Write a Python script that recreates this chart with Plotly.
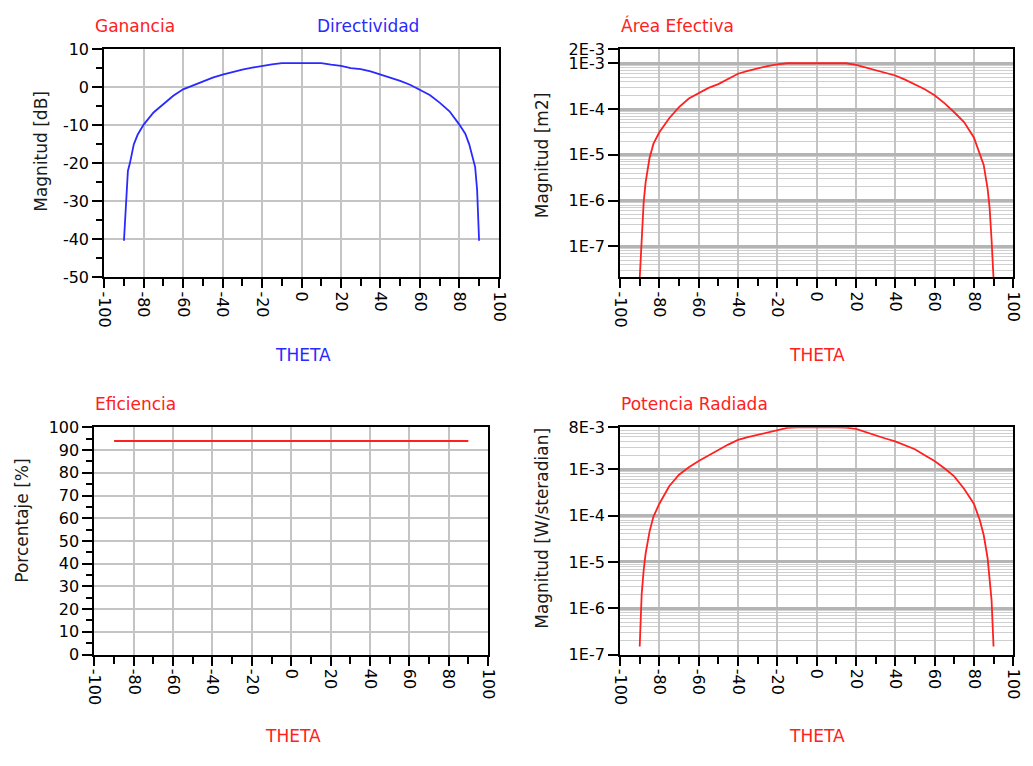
import plotly.graph_objects as go

# Angle samples (degrees) shared by the pattern curves
THETA = [-90, -89, -88, -87, -85, -83, -80, -75, -70, -65, -60, -55, -50, -45, -40,
         -35, -30, -25, -20, -15, -10, -5, 0, 5, 10, 15, 20, 25, 30, 35, 40, 45,
         50, 55, 60, 65, 70, 75, 80, 83, 85, 87, 88, 89, 90]

# Directividad [dB]
DIRECTIVIDAD = [-40.4, -31.0, -22.0, -20.0, -15.0, -12.4, -9.8, -6.6, -4.3, -2.2, -0.5,
                0.6, 1.7, 2.6, 3.4, 4.1, 4.7, 5.2, 5.7, 6.1, 6.4, 6.4, 6.4, 6.4, 6.4,
                6.0, 5.7, 5.1, 4.8, 4.2, 3.4, 2.6, 1.7, 0.7, -0.6, -2.0, -4.0, -6.3,
                -9.8, -12.2, -15.0, -19.0, -21.0, -27.0, -40.4]

# Área efectiva [m2]
AREA_EFECTIVA = [2.0e-8, 1.3e-7, 9e-7, 2.5e-6, 8.5e-6, 1.75e-5, 3.1e-5, 6.3e-5, 1.1e-4,
                 1.7e-4, 2.2e-4, 2.9e-4, 3.5e-4, 4.5e-4, 5.9e-4, 6.8e-4, 7.8e-4, 8.7e-4,
                 9.5e-4, 1.0e-3, 1.0e-3, 1.0e-3, 1.0e-3, 1.0e-3, 1.0e-3, 1.0e-3, 9.2e-4,
                 8.0e-4, 7.2e-4, 6.2e-4, 5.4e-4, 4.4e-4, 3.5e-4, 2.7e-4, 2.0e-4, 1.35e-4,
                 8.5e-5, 5.2e-5, 2.4e-5, 1.1e-5, 6e-6, 1.8e-6, 7e-7, 1.4e-7, 2.0e-8]

# Potencia radiada [W/steradian]
POTENCIA = [1.5e-7, 2.0e-6, 6.5e-6, 1.5e-5, 4.5e-5, 9.5e-5, 1.8e-4, 4.3e-4, 7.6e-4,
            1.1e-3, 1.5e-3, 2.0e-3, 2.6e-3, 3.4e-3, 4.3e-3, 4.9e-3, 5.5e-3, 6.2e-3,
            6.9e-3, 7.8e-3, 8.0e-3, 8.1e-3, 8.1e-3, 8.1e-3, 8.0e-3, 7.9e-3, 7.4e-3,
            6.3e-3, 5.2e-3, 4.6e-3, 4.0e-3, 3.3e-3, 2.7e-3, 2.0e-3, 1.5e-3, 1.05e-3,
            7.0e-4, 3.8e-4, 1.8e-4, 8e-5, 3.8e-5, 1.2e-5, 5e-6, 1.5e-6, 1.5e-7]

# Eficiencia [%]
THETA_EF = [-90, 90]
EFICIENCIA = [94, 94]

# Tick labels
THETA_TICKS = [-100, -80, -60, -40, -20, 0, 20, 40, 60, 80, 100]
THETA_TICKTEXT = ["-100", "-80", "-60", "-40", "-20", "0", "20", "40", "60", "80", "100"]
DB_TICKS = [10, 0, -10, -20, -30, -40, -50]
DB_TICKTEXT = ["10", "0", "-10", "-20", "-30", "-40", "-50"]
AE_TICKS = [2e-3, 1e-3, 1e-4, 1e-5, 1e-6, 1e-7]
AE_TICKTEXT = ["2E-3", "1E-3", "1E-4", "1E-5", "1E-6", "1E-7"]
POT_TICKS = [8e-3, 1e-3, 1e-4, 1e-5, 1e-6, 1e-7]
POT_TICKTEXT = ["8E-3", "1E-3", "1E-4", "1E-5", "1E-6", "1E-7"]

W, H = 1033, 766
FONT = "DejaVu Sans, Verdana, sans-serif"
RED = "#ff2020"
BLUE = "#2a2aff"
GRID = "#c4c4c4"
TICK_SIZE = 16

# log minor grid positions (2..9 per decade)
LOG_MINOR = [k * 10.0 ** e for e in range(-9, -1) for k in range(2, 10)]


def px_x(a, b):
    return [a / W, b / W]


def px_y(top, bottom):
    return [1 - bottom / H, 1 - top / H]


def xaxis(domain, anchor):
    return dict(
        domain=domain, anchor=anchor, range=[-100, 100],
        tickmode="array", tickvals=THETA_TICKS, ticktext=THETA_TICKTEXT,
        tickangle=90, showgrid=True, gridcolor=GRID, gridwidth=2,
        zeroline=False, showline=True, mirror=True, linecolor="black", linewidth=2,
        ticks="outside", ticklen=9, tickwidth=2, tickcolor="black",
        minor=dict(dtick=10, tick0=0, ticks="outside", ticklen=7, tickwidth=2,
                   tickcolor="black", showgrid=False),
        tickfont=dict(family=FONT, size=TICK_SIZE, color="black"),
    )


def lin_yaxis(domain, anchor, rng, dt, minor_dt, tv=None, tt=None):
    ax = dict(
        domain=domain, anchor=anchor, range=rng, dtick=dt, tick0=0,
        showgrid=True, gridcolor=GRID, gridwidth=2,
        zeroline=False, showline=True, mirror=True, linecolor="black", linewidth=2,
        ticks="outside", ticklen=10, tickwidth=2, tickcolor="black",
        minor=dict(dtick=minor_dt, tick0=0, ticks="outside", ticklen=6, tickwidth=2,
                   tickcolor="black", showgrid=False),
        tickfont=dict(family=FONT, size=TICK_SIZE, color="black"),
    )
    if tv is not None:
        ax.update(tickmode="array", tickvals=tv, ticktext=tt)
    return ax


def log_yaxis(domain, anchor, rng, tv, tt):
    return dict(
        domain=domain, anchor=anchor, type="log", range=rng,
        tickmode="array", tickvals=tv, ticktext=tt,
        showgrid=True, gridcolor="#b4b4b4", gridwidth=3,
        zeroline=False, showline=True, mirror=True, linecolor="black", linewidth=2,
        ticks="outside", ticklen=10, tickwidth=2, tickcolor="black",
        minor=dict(tickmode="array", tickvals=LOG_MINOR, showgrid=True,
                   gridcolor="#cfcfcf", gridwidth=1, ticks=""),
        tickfont=dict(family=FONT, size=TICK_SIZE, color="black"),
    )


fig = go.Figure()

fig.add_trace(go.Scatter(x=THETA, y=DIRECTIVIDAD, mode="lines",
                         line=dict(color=BLUE, width=1.8), xaxis="x", yaxis="y"))
fig.add_trace(go.Scatter(x=THETA, y=AREA_EFECTIVA, mode="lines",
                         line=dict(color=RED, width=1.8), xaxis="x2", yaxis="y2"))
fig.add_trace(go.Scatter(x=THETA_EF, y=EFICIENCIA, mode="lines",
                         line=dict(color=RED, width=1.8), xaxis="x3", yaxis="y3"))
fig.add_trace(go.Scatter(x=THETA, y=POTENCIA, mode="lines",
                         line=dict(color=RED, width=1.8), xaxis="x4", yaxis="y4"))

dx1 = px_x(97, 499)
dx2 = px_x(622.5, 1023)
dx3 = px_x(87, 488)
dyt = px_y(41.5, 275)
dyb = px_y(429, 662)

fig.update_layout(
    width=W, height=H, margin=dict(l=0, r=0, t=0, b=0),
    paper_bgcolor="white", plot_bgcolor="white", showlegend=False,
    xaxis=xaxis(dx1, "y"),
    yaxis=lin_yaxis(dyt, "x", [-50, 10], 10, 5, DB_TICKS, DB_TICKTEXT),
    xaxis2=xaxis(dx2, "y2"),
    yaxis2=log_yaxis(dyt, "x2", [-7.673, -2.699], AE_TICKS, AE_TICKTEXT),
    xaxis3=xaxis(dx3, "y3"),
    yaxis3=lin_yaxis(dyb, "x3", [0, 100], 10, 5),
    xaxis4=xaxis(dx2, "y4"),
    yaxis4=log_yaxis(dyb, "x4", [-7.0, -2.0969], POT_TICKS, POT_TICKTEXT),
)


def label(text, x, y, color, size=17, angle=0, xanchor="left"):
    fig.add_annotation(text=text, x=x / W, y=1 - y / H, xref="paper", yref="paper",
                       showarrow=False, xanchor=xanchor, yanchor="middle",
                       textangle=angle, font=dict(family=FONT, size=size, color=color))


# panel titles
label("Ganancia", 86, 17, RED)
label("Directividad", 312, 17, BLUE)
label("Área Efectiva", 621, 17, RED)
label("Eficiencia", 86, 405, RED)
label("Potencia Radiada", 621, 405, RED)

# x-axis titles
label("THETA", 300, 355, BLUE, xanchor="center")
label("THETA", 823, 355, RED, xanchor="center")
label("THETA", 289, 745, RED, xanchor="center")
label("THETA", 823, 745, RED, xanchor="center")

# y-axis titles
label("Magnitud [dB]", 33, 146, "#1a1a1a", angle=-90, xanchor="center")
label("Magnitud [m2]", 543, 150, "#1a1a1a", angle=-90, xanchor="center")
label("Porcentaje [%]", 13, 525, "#1a1a1a", angle=-90, xanchor="center")
label("Magnitud [W/steradian]", 543, 533, "#1a1a1a", angle=-90, xanchor="center")

fig.write_html("out.html")
